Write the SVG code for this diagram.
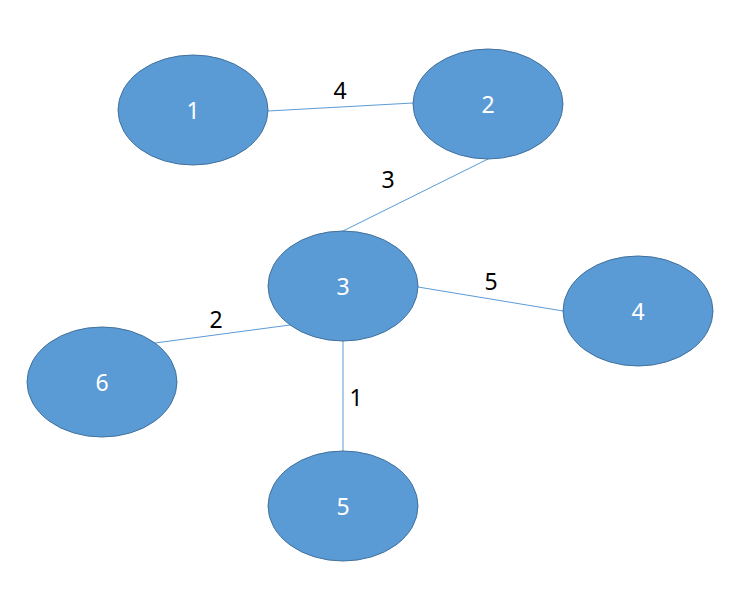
<svg xmlns="http://www.w3.org/2000/svg" width="743" height="603" viewBox="0 0 743 603">
<style>
.node{fill:#5B9BD5;stroke:#41719C;stroke-width:1}
.nl{fill:#fff;font-family:"Noto Sans","Open Sans",sans-serif;font-size:23px;text-anchor:middle;dominant-baseline:central}
.edge{stroke:#5B9BD5;stroke-width:1;fill:none}
.el{fill:#000;font-family:"Noto Sans","Open Sans",sans-serif;font-size:23px;text-anchor:middle;dominant-baseline:central}
</style>
<rect width="743" height="603" fill="#fff"/>
<g id="connectors">
<line class="edge" x1="268" y1="111" x2="413" y2="103"/>
<line class="edge" x1="488" y1="159" x2="343" y2="231"/>
<line class="edge" x1="418" y1="287" x2="563" y2="311"/>
<line class="edge" x1="290" y1="325" x2="155" y2="343"/>
<line class="edge" x1="343" y1="341" x2="343" y2="451"/>
<text class="el" x="340" y="90">4</text>
<text class="el" x="388" y="179">3</text>
<text class="el" x="491" y="281">5</text>
<text class="el" x="216" y="319">2</text>
<text class="el" x="356" y="397">1</text>
</g>
<g id="node1"><ellipse class="node" cx="193" cy="110" rx="75" ry="55"/><text class="nl" x="193" y="110">1</text></g>
<g id="node2"><ellipse class="node" cx="488" cy="104" rx="75" ry="55"/><text class="nl" x="488" y="104">2</text></g>
<g id="node3"><ellipse class="node" cx="343" cy="286" rx="75" ry="55"/><text class="nl" x="343" y="286">3</text></g>
<g id="node4"><ellipse class="node" cx="638" cy="311" rx="75" ry="55"/><text class="nl" x="638" y="311">4</text></g>
<g id="node5"><ellipse class="node" cx="343" cy="506" rx="75" ry="55"/><text class="nl" x="343" y="506">5</text></g>
<g id="node6"><ellipse class="node" cx="102" cy="382" rx="75" ry="55"/><text class="nl" x="102" y="382">6</text></g>
</svg>
